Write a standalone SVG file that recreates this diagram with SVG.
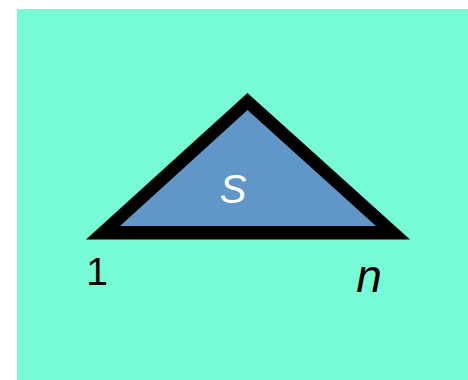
<svg xmlns="http://www.w3.org/2000/svg" width="468" height="380" viewBox="0 0 468 380">
<style>
.lbl{font-family:"Liberation Sans",Arial,sans-serif;}
</style>
<rect x="0" y="0" width="468" height="380" fill="#ffffff"/>
<rect x="17" y="9" width="451" height="371" fill="#76FBD6"/>
<g id="triangle">
<polygon points="247.5,93 86,239.5 410,239.5" fill="#000000"/>
<polygon points="247.5,110 120,226 376,226" fill="#6096C8"/>
<text class="lbl" x="233" y="203" font-size="40" font-style="italic" fill="#ffffff" text-anchor="middle">S</text>
</g>
<g id="label-1"><text class="lbl" x="97" y="285" font-size="39" fill="#000000" text-anchor="middle">1</text></g>
<g id="label-n"><text class="lbl" x="369" y="292" font-size="46" font-style="italic" fill="#000000" text-anchor="middle">n</text></g>
<g id="connectors"/>
</svg>
